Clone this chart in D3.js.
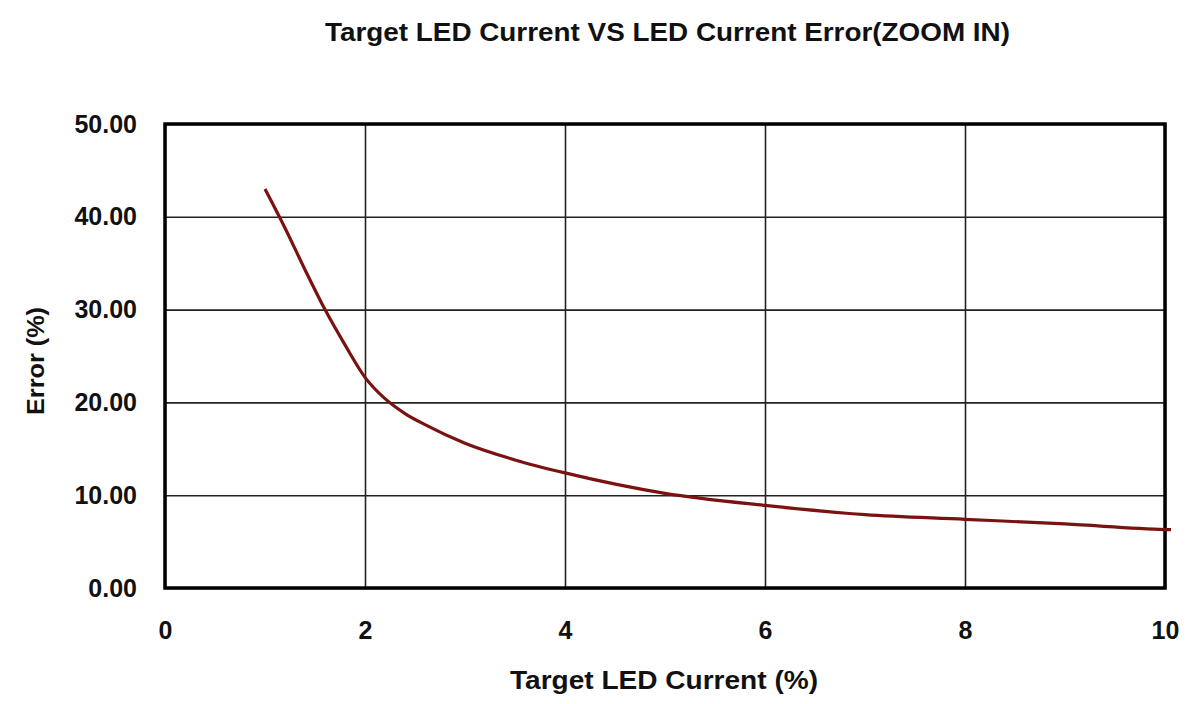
<!DOCTYPE html>
<html>
<head>
<meta charset="utf-8">
<script src="https://cdn.jsdelivr.net/npm/d3@7"></script>
<style>
  body { margin: 0; background: #fff; }
  text { font-family: "Liberation Sans", Arial, sans-serif; font-weight: bold; fill: #111; }
</style>
</head>
<body>
<svg id="chart"></svg>
<script>
// values
var currents = [1.0, 1.2, 1.4, 1.6, 1.8, 2.0, 2.2, 2.4, 2.6, 3.0, 3.5, 4.0, 5.0, 6.0, 7.0, 8.0, 9.0, 10.0, 10.06];
var errors   = [43.0, 38.8, 34.3, 30.0, 26.2, 22.7, 20.4, 18.8, 17.6, 15.6, 13.8, 12.4, 10.2, 8.9, 7.9, 7.4, 6.9, 6.3, 6.28];
var xTicks = [0, 2, 4, 6, 8, 10];
var yTicks = [0, 10, 20, 30, 40, 50];

var margin = {top: 124, right: 33, bottom: 116, left: 165},
    width = 1198 - margin.left - margin.right,
    height = 704 - margin.top - margin.bottom;

var x = d3.scaleLinear().domain([0, 10]).range([0, width]);
var y = d3.scaleLinear().domain([0, 50]).range([height, 0]);

var svg = d3.select("#chart")
    .attr("width", 1198)
    .attr("height", 704);

var g = svg.append("g")
    .attr("transform", "translate(" + margin.left + "," + margin.top + ")");

// grid lines
g.append("g")
    .call(d3.axisBottom(x).tickValues(xTicks).tickSize(-height).tickFormat(""))
    .attr("transform", "translate(0," + height + ")")
    .call(function(s) { s.select(".domain").remove(); })
    .selectAll("line").attr("stroke", "#222").attr("stroke-width", 1.6);

g.append("g")
    .call(d3.axisLeft(y).tickValues(yTicks).tickSize(-width).tickFormat(""))
    .call(function(s) { s.select(".domain").remove(); })
    .selectAll("line").attr("stroke", "#222").attr("stroke-width", 1.6);

// tick labels
g.append("g")
    .attr("transform", "translate(0," + height + ")")
    .call(d3.axisBottom(x).tickValues(xTicks).tickSize(0).tickPadding(33).tickFormat(d3.format("d")))
    .call(function(s) { s.select(".domain").remove(); })
    .selectAll("text").style("font-size", "25px").style("font-family", "Liberation Sans, Arial, sans-serif")
    .style("font-weight", "bold").attr("fill", "#111");

g.append("g")
    .call(d3.axisLeft(y).tickValues(yTicks).tickSize(0).tickPadding(28).tickFormat(d3.format(".2f")))
    .call(function(s) { s.select(".domain").remove(); })
    .selectAll("text").style("font-size", "25px").style("font-family", "Liberation Sans, Arial, sans-serif")
    .style("font-weight", "bold").attr("fill", "#111");

// plot border
g.append("rect")
    .attr("width", width)
    .attr("height", height)
    .attr("fill", "none")
    .attr("stroke", "#000")
    .attr("stroke-width", 3.5);

// curve
var line = d3.line()
    .x(function(d, i) { return x(currents[i]); })
    .y(function(d) { return y(d); })
    .curve(d3.curveMonotoneX);

g.append("path")
    .datum(errors)
    .attr("fill", "none")
    .attr("stroke", "#7a1212")
    .attr("stroke-width", 3.2)
    .attr("d", line);

// titles
svg.append("text")
    .attr("x", 325)
    .attr("y", 41)
    .attr("textLength", 685)
    .attr("lengthAdjust", "spacingAndGlyphs")
    .style("font-size", "26px")
    .text("Target LED Current VS LED Current Error(ZOOM IN)");

svg.append("text")
    .attr("x", 510)
    .attr("y", 689)
    .attr("textLength", 308)
    .attr("lengthAdjust", "spacingAndGlyphs")
    .style("font-size", "26px")
    .text("Target LED Current (%)");

svg.append("text")
    .attr("transform", "translate(44,415) rotate(-90)")
    .attr("textLength", 108)
    .attr("lengthAdjust", "spacingAndGlyphs")
    .style("font-size", "24px")
    .text("Error (%)");
</script>
</body>
</html>
